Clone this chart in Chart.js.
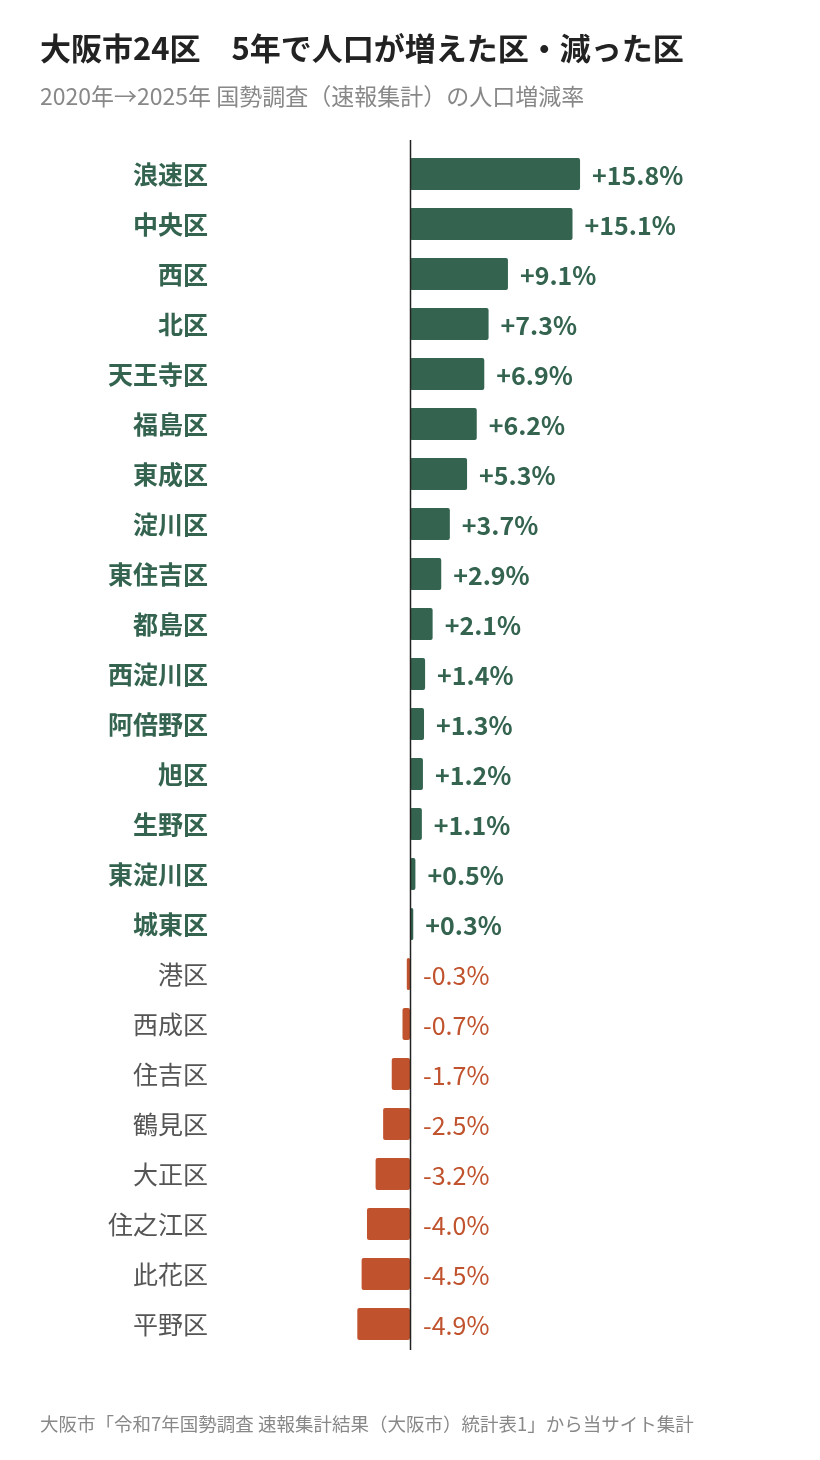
<!DOCTYPE html>
<html><head><meta charset="utf-8">
<script src="https://cdn.jsdelivr.net/npm/chart.js@4"></script>
<style>
body{margin:0;width:820px;height:1460px;background:#fff;font-family:"Noto Sans CJK JP","Noto Sans",sans-serif;position:relative;overflow:hidden}
#t{position:absolute;left:40px;top:24px;font-size:31px;font-weight:700;color:#222;white-space:pre}
#s{position:absolute;left:40px;top:78px;font-size:23px;color:#888}
#f{position:absolute;left:40px;top:1410px;font-size:18.5px;color:#888}
#w{position:absolute;left:0;top:0;width:820px;height:1460px}
</style></head><body>
<div id="w"><canvas id="c"></canvas></div>
<div id="t">大阪市24区　5年で人口が増えた区・減った区</div>
<div id="s">2020年→2025年 国勢調査（速報集計）の人口増減率</div>
<div id="f">大阪市「令和7年国勢調査 速報集計結果（大阪市）統計表1」から当サイト集計</div>
<script>
const wards=["浪速区","中央区","西区","北区","天王寺区","福島区","東成区","淀川区","東住吉区","都島区","西淀川区","阿倍野区","旭区","生野区","東淀川区","城東区","港区","西成区","住吉区","鶴見区","大正区","住之江区","此花区","平野区"];
const rates=[15.8,15.1,9.1,7.3,6.9,6.2,5.3,3.7,2.9,2.1,1.4,1.3,1.2,1.1,0.5,0.3,-0.3,-0.7,-1.7,-2.5,-3.2,-4.0,-4.5,-4.9];
const GREEN="#34644f",ORANGE="#c0532e";
const labelsPlugin={id:"vals",afterDatasetsDraw(ch){
 const ctx=ch.ctx,x=ch.scales.x,meta=ch.getDatasetMeta(0);
 ctx.save();ctx.textBaseline="middle";
 meta.data.forEach((b,i)=>{const v=rates[i];
  if(v>0){ctx.font='bold 25px "Noto Sans CJK JP"';ctx.fillStyle=GREEN;ctx.fillText("+"+v.toFixed(1)+"%",b.x+12,b.y+1);}
  else{ctx.font='25px "Noto Sans CJK JP"';ctx.fillStyle=ORANGE;ctx.fillText(v.toFixed(1)+"%",x.getPixelForValue(0)+13,b.y+1);}
 });
 const z=Math.round(x.getPixelForValue(0))+0.5;
 ctx.strokeStyle="#222";ctx.lineWidth=1.5;ctx.beginPath();ctx.moveTo(z,140);ctx.lineTo(z,1350);ctx.stroke();
 ctx.restore();}};
new Chart(document.getElementById("c"),{type:"bar",
 data:{labels:wards,datasets:[{data:rates,backgroundColor:rates.map(v=>v>0?GREEN:ORANGE),barPercentage:0.64,categoryPercentage:1,borderRadius:2,borderSkipped:false}]},
 options:{indexAxis:"y",responsive:true,maintainAspectRatio:false,animation:false,
  layout:{padding:{top:149,bottom:111,right:0,left:0}},
  plugins:{legend:{display:false},tooltip:{enabled:false}},
  scales:{x:{min:-17.66,max:38.1,display:false},
   y:{afterFit(s){s.width=220},grid:{display:false,drawTicks:false},border:{display:false},
    ticks:{padding:12,color:c=>rates[c.index]>0?GREEN:"#555",font:c=>({size:25,family:"Noto Sans CJK JP",weight:rates[c.index]>0?"bold":"normal"})}}}},
 plugins:[labelsPlugin]});
</script></body></html>
